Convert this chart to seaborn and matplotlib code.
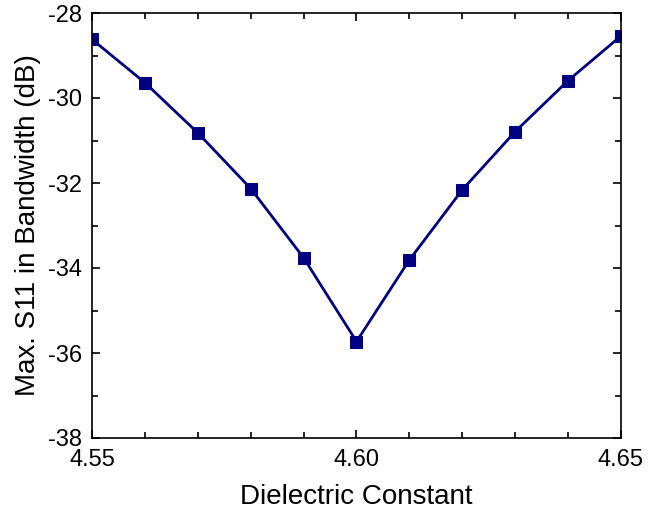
import matplotlib
matplotlib.use("Agg")
import matplotlib.pyplot as plt
import seaborn as sns
import pandas as pd
from matplotlib.ticker import MultipleLocator, FormatStrFormatter

dielectric = [4.55, 4.56, 4.57, 4.58, 4.59, 4.60, 4.61, 4.62, 4.63, 4.64, 4.65]
max_s11 = [-28.62, -29.64, -30.82, -32.13, -33.76, -35.73, -33.81, -32.16, -30.79, -29.59, -28.54]

df = pd.DataFrame({"x": dielectric, "y": max_s11})

sns.set_style("ticks")
plt.rcParams['font.family'] = ['Liberation Sans', 'DejaVu Sans']
plt.rcParams['text.color'] = 'black'
plt.rcParams['axes.labelcolor'] = 'black'

fig = plt.figure(figsize=(6.67, 5.17), dpi=100)
ax = fig.add_axes([92/667, 1-438/517, (621-92)/667, (438-13)/517])

sns.lineplot(data=df, x="x", y="y", ax=ax, color="#000080", linewidth=2.0,
             marker="s", markersize=8.5, markeredgecolor="#000080", markerfacecolor="#000080")

ax.set_xlim(4.55, 4.65)
ax.set_ylim(-38, -28)
ax.xaxis.set_major_locator(MultipleLocator(0.05))
ax.xaxis.set_minor_locator(MultipleLocator(0.01))
ax.yaxis.set_major_locator(MultipleLocator(2))
ax.yaxis.set_minor_locator(MultipleLocator(1))
ax.xaxis.set_major_formatter(FormatStrFormatter('%.2f'))
ax.yaxis.set_major_formatter(FormatStrFormatter('%d'))

for s in ax.spines.values():
    s.set_visible(True)
    s.set_linewidth(1.2)
    s.set_color('black')

ax.tick_params(which='both', direction='in', top=True, right=True, colors='black',
               labelcolor='black', width=1.2)
ax.tick_params(which='major', length=6, labelsize=17)
ax.tick_params(axis='x', which='major', pad=8)
ax.tick_params(axis='y', which='major', pad=7)
ax.tick_params(which='minor', length=4)

ax.set_xlabel("Dielectric Constant", fontsize=20, labelpad=9, color='black')
ax.set_ylabel("Max. S11 in Bandwidth (dB)", fontsize=20, labelpad=5, color='black')

fig.savefig("out.png", dpi=100)
